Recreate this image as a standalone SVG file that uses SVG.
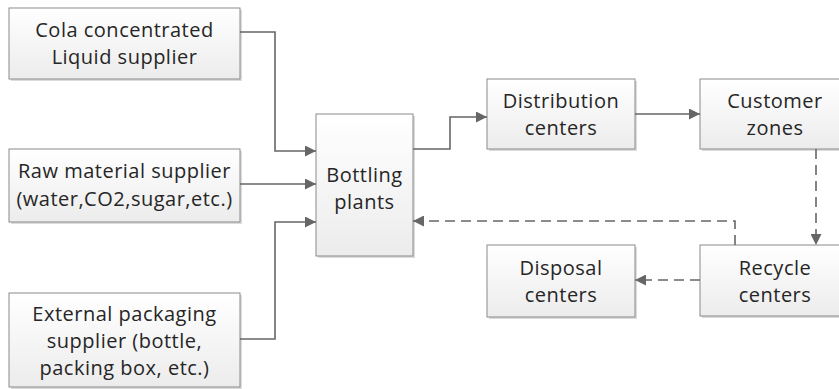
<svg xmlns="http://www.w3.org/2000/svg" width="839" height="389" viewBox="0 0 839 389">
<defs>
<linearGradient id="g" x1="0" y1="0" x2="0" y2="1">
<stop offset="0" stop-color="#ffffff"/>
<stop offset="1" stop-color="#ececec"/>
</linearGradient>
<marker id="ah" viewBox="0 0 10 10" refX="10" refY="5" markerWidth="11" markerHeight="11" markerUnits="userSpaceOnUse" orient="auto">
<path d="M0,0 L10,5 L0,10 z" fill="#666"/>
</marker>
</defs>
<style>
.box{fill:url(#g);stroke:#8a8a8a;stroke-width:1}
.sh{fill:#dcdcdc}
text{font-family:"Open Sans","Liberation Sans",sans-serif;font-size:20px;letter-spacing:0.5px;fill:#262626;text-anchor:middle}
.c{fill:none;stroke:#666;stroke-width:1.6}
.d{stroke-dasharray:10,6}
</style>
<rect width="839" height="389" fill="#fff"/>
<g id="cola">
<rect class="sh" x="11" y="10" width="231" height="71"/>
<rect class="box" x="9" y="8" width="231" height="71"/>
<text x="124.500" y="37">Cola concentrated</text>
<text x="124.500" y="64">Liquid supplier</text>
</g>
<g id="raw">
<rect class="sh" x="11" y="151" width="231" height="73"/>
<rect class="box" x="9" y="149" width="231" height="73"/>
<text x="124.500" y="178">Raw material supplier</text>
<text x="124.500" y="206">(water,CO2,sugar,etc.)</text>
</g>
<g id="external">
<rect class="sh" x="11" y="295" width="231" height="94"/>
<rect class="box" x="9" y="293" width="231" height="94"/>
<text x="124.500" y="321">External packaging</text>
<text x="124.500" y="348">supplier (bottle,</text>
<text x="124.500" y="375">packing box, etc.)</text>
</g>
<g id="bottling">
<rect class="sh" x="318" y="116" width="97" height="142"/>
<rect class="box" x="316" y="114" width="97" height="142"/>
<text x="364.500" y="182">Bottling</text>
<text x="364.500" y="209">plants</text>
</g>
<g id="distribution">
<rect class="sh" x="489" y="81" width="148" height="70"/>
<rect class="box" x="487" y="79" width="148" height="70"/>
<text x="561" y="108">Distribution</text>
<text x="561" y="135">centers</text>
</g>
<g id="customer">
<rect class="sh" x="702" y="81" width="148" height="70"/>
<rect class="box" x="700" y="79" width="148" height="70"/>
<text x="775" y="108">Customer</text>
<text x="775" y="135">zones</text>
</g>
<g id="disposal">
<rect class="sh" x="489" y="247" width="148" height="72"/>
<rect class="box" x="487" y="245" width="148" height="72"/>
<text x="561" y="275">Disposal</text>
<text x="561" y="302">centers</text>
</g>
<g id="recycle">
<rect class="sh" x="702" y="247" width="148" height="71"/>
<rect class="box" x="700" y="245" width="148" height="71"/>
<text x="775" y="275">Recycle</text>
<text x="775" y="302">centers</text>
</g>
<g id="connectors">
<path class="c" d="M240,32 H275 V151 H316" marker-end="url(#ah)"/>
<path class="c" d="M240,184 H316" marker-end="url(#ah)"/>
<path class="c" d="M240,339 H275 V222 H316" marker-end="url(#ah)"/>
<path class="c" d="M413,149 H450 V117 H487" marker-end="url(#ah)"/>
<path class="c" d="M635,114 H700" marker-end="url(#ah)"/>
<path class="c d" d="M816,149 V245" marker-end="url(#ah)"/>
<path class="c d" d="M735,245 V221 H413" marker-end="url(#ah)"/>
<path class="c d" d="M700,280 H635" marker-end="url(#ah)"/>
</g>
</svg>
